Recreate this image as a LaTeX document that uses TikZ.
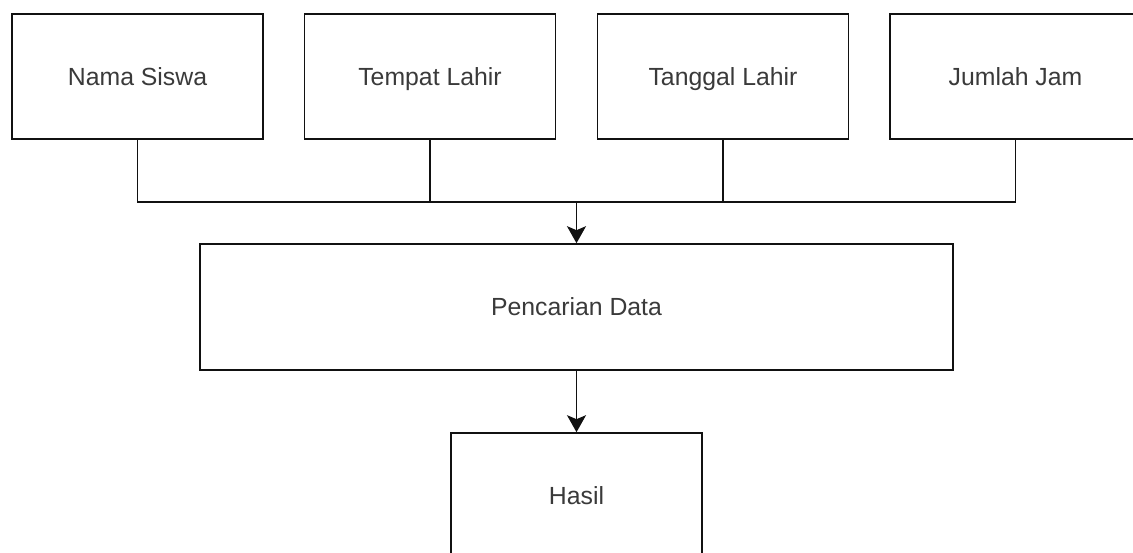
\documentclass[tikz,border=0pt]{standalone}
\usepackage{fontspec}
\setmainfont{Liberation Sans}
\usetikzlibrary{arrows.meta}
\definecolor{txt}{HTML}{3A3A3A}
\definecolor{ln}{HTML}{111111}
\tikzset{
  box/.style={draw=ln, line width=1.6pt, fill=white, rectangle, minimum width=251pt, minimum height=125pt, inner sep=0pt, text height=17.8pt, text depth=0pt, text=txt, font=\fontsize{24.8pt}{28pt}\selectfont},
  conn/.style={draw=ln, line width=1.6pt},
  arr/.style={conn, -{Stealth[length=17pt, width=19pt, inset=4pt]}}
}
\begin{document}
\begin{tikzpicture}[x=1pt,y=-1pt]
\useasboundingbox (0,0) rectangle (1133,552);
\clip (0,0) rectangle (1133,552);
\fill[white] (0,0) rectangle (1133,552);
\node[box] (nama) at (137.5,76.5) {Nama Siswa};
\node[box] (tempat) at (430,76.5) {Tempat Lahir};
\node[box] (tanggal) at (723,76.5) {Tanggal Lahir};
\node[box] (jumlah) at (1015.5,76.5) {Jumlah Jam};
\node[box, minimum width=753pt, minimum height=126pt] (cari) at (576.5,307) {Pencarian Data};
\node[box] (hasil) at (576.5,495.5) {Hasil};
\coordinate (bar) at (576.5,202);
\draw[conn] (nama.south) |- (bar);
\draw[conn] (tempat.south) |- (bar);
\draw[conn] (tanggal.south) |- (bar);
\draw[conn] (jumlah.south) |- (bar);
\draw[arr] (bar) -- (cari.north);
\draw[arr] (cari.south) -- (hasil.north);
\end{tikzpicture}
\end{document}
